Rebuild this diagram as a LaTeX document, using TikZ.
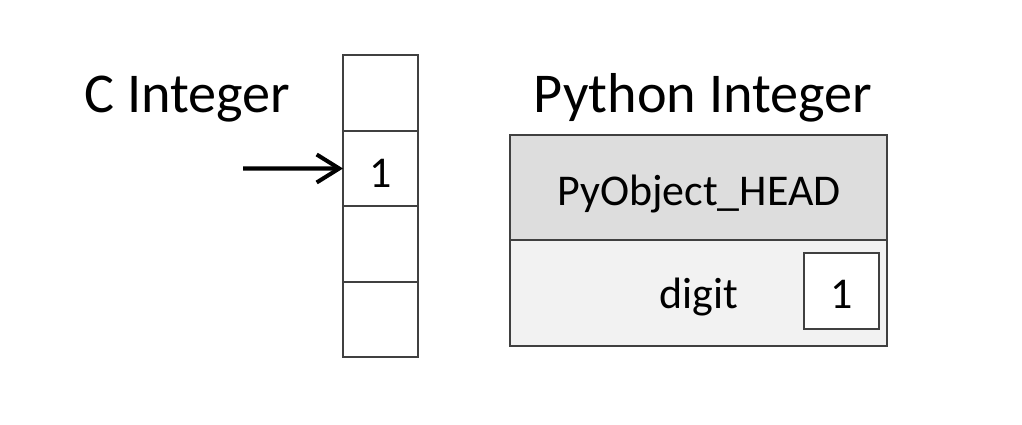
\documentclass[tikz,border=0pt]{standalone}
\usepackage{fontspec}
\setmainfont{Carlito}
\usetikzlibrary{positioning,arrows.meta}

\begin{document}
\begin{tikzpicture}[
  cell/.style={draw=black!75, line width=1.1pt, fill=white, outer sep=0pt,
    minimum width=\cellw cm, minimum height=\cellh cm},
  title/.style={anchor=base, font=\fontsize{32}{38}\selectfont},
  label/.style={anchor=base, font=\fontsize{25}{30}\selectfont}
]

% Parameters for drawing only
\def\cellw{1.5}
\def\cellh{1.51}
\def\objw{7.54}

% Frame
\useasboundingbox (0,0) rectangle (20.44,8.48);

% Titles
\node[title] (ctitle) at (3.75,6.24) {C Integer};
\node[title] (pytitle) at (14.06,6.24) {Python Integer};

% C integer memory cells
\node[cell] (c1) at (7.61,6.62) {};
\node[cell, below=0cm of c1] (c2) {};
\node[cell, below=0cm of c2] (c3) {};
\node[cell, below=0cm of c3] (c4) {};
\node[label] (cval) at ([yshift=-0.37cm]c2.center) {1};

% Pointer
\coordinate (ptr) at (4.86,5.11);
\draw[line width=2.3pt, -{Straight Barb[length=4.5mm,width=5.6mm]}] (ptr) -- (c2.west);

% Python integer object
\node[cell, fill=gray!27, minimum width=\objw cm, minimum height=2.1cm]
  (head) at (13.97,4.73) {};
\node[cell, fill=gray!10, minimum width=\objw cm, minimum height=2.12cm,
  below=0cm of head] (body) {};
\node[label] at (13.98,4.38) {PyObject\_HEAD};
\node[label] (digit) at (13.98,2.32) {digit};
\node[cell, minimum height=1.52cm] (dbox) at (16.83,2.66) {};
\node[label] (dval) at (16.84,2.32) {1};

\end{tikzpicture}
\end{document}
